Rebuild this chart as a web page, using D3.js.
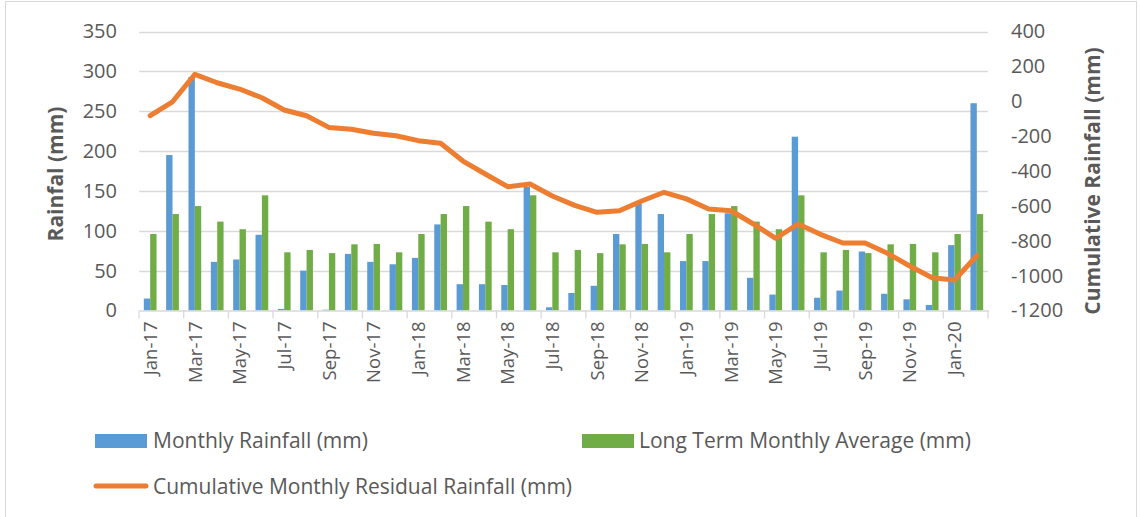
<!DOCTYPE html>
<html>
<head>
<meta charset="utf-8">
<script src="https://cdn.jsdelivr.net/npm/d3@7"></script>
<style>
  html, body { margin: 0; padding: 0; background: #fff; }
  svg { display: block; font-family: "Open Sans", "Noto Sans", sans-serif; }
</style>
</head>
<body>
<svg id="chart" width="1141" height="517"></svg>
<script>
// Monthly categories, Jan 2017 – Feb 2020
const months = [
  "Jan-17","Feb-17","Mar-17","Apr-17","May-17","Jun-17","Jul-17","Aug-17","Sep-17","Oct-17","Nov-17","Dec-17",
  "Jan-18","Feb-18","Mar-18","Apr-18","May-18","Jun-18","Jul-18","Aug-18","Sep-18","Oct-18","Nov-18","Dec-18",
  "Jan-19","Feb-19","Mar-19","Apr-19","May-19","Jun-19","Jul-19","Aug-19","Sep-19","Oct-19","Nov-19","Dec-19",
  "Jan-20","Feb-20"
];

// Monthly rainfall (mm)
const monthlyRainfall = [
  15, 195, 293, 61, 64, 95, 2, 50, 1, 71, 61, 58,
  66, 108, 33, 33, 32, 155, 4, 22, 31, 96, 135, 121,
  62, 62, 122, 41, 20, 218, 16, 25, 74, 21, 14, 7,
  82, 260
];

// Long term monthly average (mm)
const longTermAverage = [
  96, 121, 131, 111.5, 102, 144.5, 73, 76, 72, 83, 83.5, 73,
  96, 121, 131, 111.5, 102, 144.5, 73, 76, 72, 83, 83.5, 73,
  96, 121, 131, 111.5, 102, 144.5, 73, 76, 72, 83, 83.5, 73,
  96, 121
];

// Cumulative monthly residual rainfall (mm), secondary axis
const cumulativeResidual = [
  -83, -3, 154, 106, 70, 20, -50, -83, -150, -161, -184, -198,
  -226, -241, -343, -417, -490, -475, -543, -597, -637, -628, -572, -522,
  -560, -618, -628, -704, -786, -704, -763, -813, -813, -872, -945, -1012,
  -1025, -886
];

const leftTicks = [0, 50, 100, 150, 200, 250, 300, 350];
const rightTicks = [-1200, -1000, -800, -600, -400, -200, 0, 200, 400];
const xTickLabels = months.filter((m, i) => i % 2 === 0);

const seriesNames = {
  rain: "Monthly Rainfall (mm)",
  avg: "Long Term Monthly Average (mm)",
  cum: "Cumulative Monthly Residual Rainfall (mm)"
};

const colors = { rain: "#5B9BD5", avg: "#70AD47", cum: "#ED7D31", grid: "#D9D9D9", text: "#595959" };

const svg = d3.select("#chart");
const plot = { left: 139, right: 988, top: 31.5, bottom: 310.5 };

const x = d3.scaleBand().domain(months).range([plot.left, plot.right]).paddingInner(0).paddingOuter(0);
const yL = d3.scaleLinear().domain([0, 350]).range([plot.bottom, plot.top]);
const yR = d3.scaleLinear().domain([-1200, 400]).range([plot.bottom, plot.top]);

// chart frame
svg.append("rect")
  .attr("x", 5.5).attr("y", 1.5).attr("width", 1131).attr("height", 530)
  .attr("fill", "none").attr("stroke", colors.grid).attr("stroke-width", 1);

// horizontal gridlines from the primary axis
svg.append("g")
  .selectAll("line")
  .data(leftTicks.filter(d => d !== 0))
  .join("line")
  .attr("x1", plot.left).attr("x2", plot.right)
  .attr("y1", d => Math.round(yL(d)) + 0.5).attr("y2", d => Math.round(yL(d)) + 0.5)
  .attr("stroke", colors.grid).attr("stroke-width", 1.3);

const plainNumber = d => String(d);

// left axis labels
const leftAxis = d3.axisLeft(yL).tickValues(leftTicks).tickFormat(plainNumber).tickSize(0).tickPadding(0);
const gL = svg.append("g").attr("transform", `translate(117,0)`).call(leftAxis);
gL.select(".domain").remove();
gL.selectAll("text").attr("fill", colors.text).attr("font-size", 20).attr("font-family", "Open Sans");

// right axis labels
const rightAxis = d3.axisRight(yR).tickValues(rightTicks).tickFormat(plainNumber).tickSize(0).tickPadding(0);
const gR = svg.append("g").attr("transform", `translate(1011,0)`).call(rightAxis);
gR.select(".domain").remove();
gR.selectAll("text").attr("fill", colors.text).attr("font-size", 20).attr("font-family", "Open Sans");

// bars
const bw = x.bandwidth() * 0.285;
const center = d => x(d) + x.bandwidth() / 2;

svg.append("g")
  .selectAll("rect")
  .data(months)
  .join("rect")
  .attr("x", (d) => center(d) - bw)
  .attr("width", bw)
  .attr("y", (d, i) => yL(monthlyRainfall[i]))
  .attr("height", (d, i) => yL(0) - yL(monthlyRainfall[i]))
  .attr("fill", colors.rain);

svg.append("g")
  .selectAll("rect")
  .data(months)
  .join("rect")
  .attr("x", (d) => center(d))
  .attr("width", bw)
  .attr("y", (d, i) => yL(longTermAverage[i]))
  .attr("height", (d, i) => yL(0) - yL(longTermAverage[i]))
  .attr("fill", colors.avg);

// category axis
const bottomAxis = d3.axisBottom(x).tickValues(xTickLabels).tickSize(0).tickPadding(0);
const gB = svg.append("g").attr("transform", `translate(0,${plot.bottom})`).call(bottomAxis);
gB.select(".domain").attr("stroke", colors.grid).attr("stroke-width", 1.3);
gB.selectAll("text")
  .attr("fill", colors.text).attr("font-size", 18.5).attr("font-family", "Open Sans")
  .attr("text-anchor", "end")
  .attr("transform", "translate(0,11) rotate(-90)")
  .attr("x", 0).attr("y", 0).attr("dy", "0.36em");

// tick marks between every second category
const boundaries = d3.range(0, months.length + 1, 2);
svg.append("g")
  .selectAll("line")
  .data(boundaries)
  .join("line")
  .attr("x1", i => (i < months.length ? x(months[i]) : plot.right))
  .attr("x2", i => (i < months.length ? x(months[i]) : plot.right))
  .attr("y1", plot.bottom).attr("y2", plot.bottom + 8)
  .attr("stroke", colors.grid).attr("stroke-width", 1.3);

// cumulative residual line
const line = d3.line()
  .x((d, i) => center(months[i]))
  .y(d => yR(d));

svg.append("path")
  .datum(cumulativeResidual)
  .attr("d", line)
  .attr("fill", "none")
  .attr("stroke", colors.cum)
  .attr("stroke-width", 5)
  .attr("stroke-linejoin", "round")
  .attr("stroke-linecap", "round");

// axis titles
svg.append("text")
  .attr("transform", `translate(63,174) rotate(-90)`)
  .attr("text-anchor", "middle")
  .attr("font-size", 21).attr("font-weight", "bold").attr("fill", colors.text)
  .text("Rainfal (mm)");

svg.append("text")
  .attr("transform", `translate(1100,181) rotate(-90)`)
  .attr("text-anchor", "middle")
  .attr("font-size", 21).attr("font-weight", "bold").attr("fill", colors.text)
  .text("Cumulative Rainfall (mm)");

// legend
const legend = svg.append("g").attr("font-size", 21).attr("fill", colors.text);
legend.append("rect").attr("x", 95).attr("y", 434).attr("width", 52).attr("height", 14).attr("fill", colors.rain);
legend.append("text").attr("x", 153).attr("y", 441).attr("dy", "0.35em").attr("fill", colors.text).text(seriesNames.rain);
legend.append("rect").attr("x", 582).attr("y", 434).attr("width", 52).attr("height", 14).attr("fill", colors.avg);
legend.append("text").attr("x", 639).attr("y", 441).attr("dy", "0.35em").attr("fill", colors.text).text(seriesNames.avg);
legend.append("line").attr("x1", 96).attr("x2", 146).attr("y1", 486).attr("y2", 486)
  .attr("stroke", colors.cum).attr("stroke-width", 5).attr("stroke-linecap", "round");
legend.append("text").attr("x", 153).attr("y", 487).attr("dy", "0.35em").attr("fill", colors.text).text(seriesNames.cum);
</script>
</body>
</html>
